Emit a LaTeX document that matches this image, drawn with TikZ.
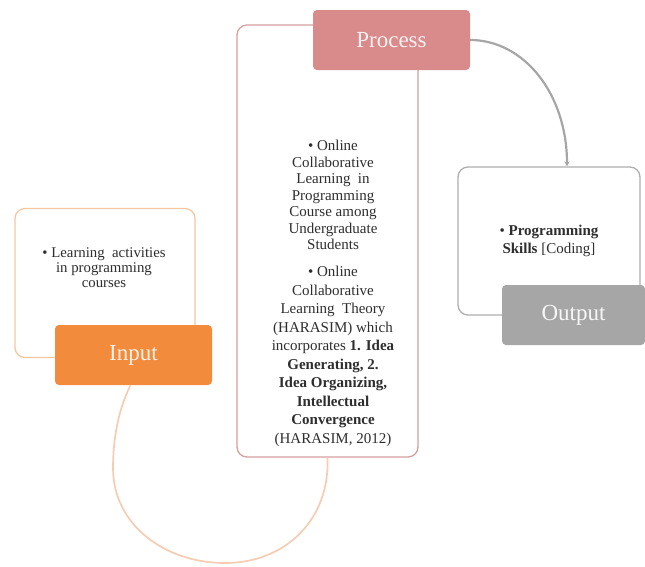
\documentclass[tikz,border=0pt]{standalone}
\usepackage{fontspec}
\setmainfont{Liberation Serif}
\usepackage{tikz}
\usepackage{color}
\usetikzlibrary{arrows.meta}
\definecolor{inorange}{HTML}{F28B3B}
\definecolor{inedge}{HTML}{F4C7A0}
\definecolor{procpink}{HTML}{D98A8B}
\definecolor{procedge}{HTML}{D6A0A0}
\definecolor{outgray}{HTML}{A6A6A6}
\definecolor{outedge}{HTML}{AEAEAE}
\definecolor{arcpeach}{HTML}{F6CDB3}
\definecolor{bodytext}{HTML}{2E2E2E}

\begin{document}
\begin{tikzpicture}[x=1pt,y=-1pt,
  outer/.style={draw,rounded corners=10pt,fill=white,line width=1.3pt,inner sep=0pt},
  tagbox/.style={rounded corners=4pt,inner sep=0pt,minimum width=157pt,minimum height=60pt,font=\fontsize{23}{27}\selectfont},
  body/.style={align=center,text=bodytext,inner sep=0pt}]
\useasboundingbox (0,0) rectangle (645,566);

\node[outer,draw=inedge,minimum width=180pt,minimum height=149pt] (inbox) at (105,283) {};
\node[outer,draw=procedge,minimum width=181pt,minimum height=432pt] (procbox) at (327.5,241) {};
\node[outer,draw=outedge,minimum width=182pt,minimum height=148pt] (outbox) at (549,241) {};

\node[body,font=\fontsize{14.8}{15}\selectfont] (intext) at (104,268) {\textbullet\ Learning \ activities\\in programming\\courses};
\node[body,font=\fontsize{15}{16.5}\selectfont] (proctext) at (333,293.5) {\textbullet\ Online\\Collaborative\\Learning \ in\\Programming\\Course among\\Undergraduate\\Students\\[10.5pt]
\textbullet\ Online\\[2pt]Collaborative\\[2pt]Learning \ Theory\\[2pt](HARASIM) which\\[2pt]incorporates \textbf{1. Idea}\\[2pt]\textbf{Generating, 2.}\\[2pt]\textbf{Idea Organizing,}\\[2pt]\textbf{Intellectual}\\[2pt]\textbf{Convergence}\\[2pt](HARASIM, 2012)};
\node[body,font=\fontsize{15}{18}\selectfont] (outtext) at (549,241) {\textbullet\ \textbf{Programming}\\\textbf{Skills} [Coding]};

\node[tagbox,fill=inorange,text=white!88!inorange] (input) at (133.5,355) {Input};
\node[tagbox,fill=procpink,text=white!88!procpink] (process) at (391.5,40) {Process};
\node[tagbox,fill=outgray,text=white!90!outgray,minimum width=143pt] (output) at (573.5,315) {Output};

\draw[arcpeach,line width=1.7pt] ([xshift=-3pt]input.south) .. controls (118,410) and (113,440) .. (113,468) .. controls (113,525) and (165,563) .. (225,563) .. controls (285,563) and (330,520) .. (procbox.south);
\draw[outgray,line width=2.2pt,-{Stealth[length=5pt,width=5pt]}] (process.east) .. controls (524,40) and (567,94) .. ([xshift=18pt]outbox.north);
\end{tikzpicture}
\end{document}
